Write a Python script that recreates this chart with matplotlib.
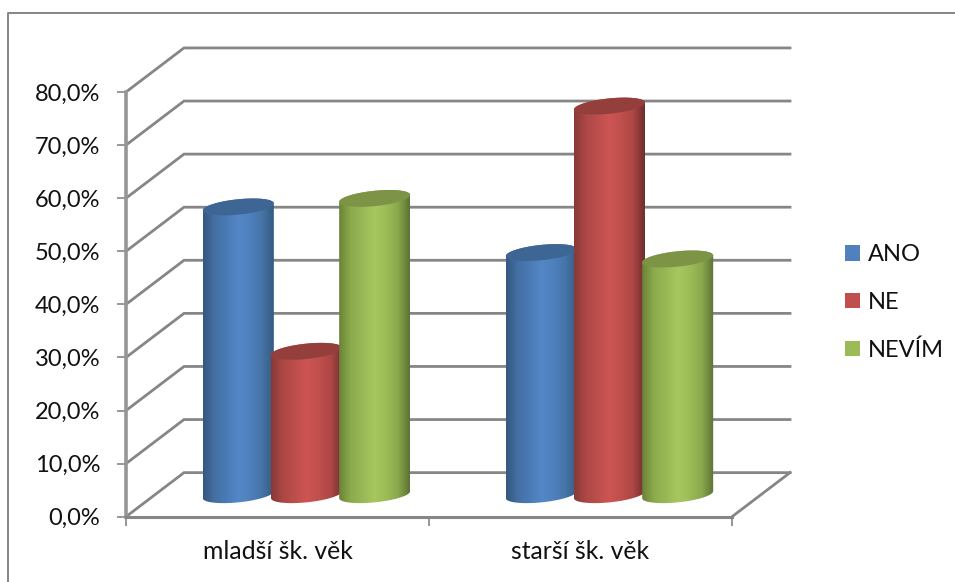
import numpy as np
import matplotlib
matplotlib.use('Agg')
import matplotlib.pyplot as plt
from matplotlib.colors import LinearSegmentedColormap
from matplotlib.lines import Line2D
from matplotlib.patches import Patch, Polygon

# data
categories = ['mladší šk. věk', 'starší šk. věk']
series_names = ['ANO', 'NE', 'NEVÍM']
ano_values = [54.2, 45.6]
ne_values = [27.0, 73.2]
nevim_values = [55.8, 44.4]
y_ticks = [0, 10, 20, 30, 40, 50, 60, 70, 80]

# colours: legend, top cap, horizontal shading of the body
legend_colors = ['#4f81bd', '#c0504d', '#9bbb59']
top_colors = ['#3e6695', '#953f3d', '#7d9446']
body_colors = [
    ['#34587f', '#4470a3', '#4a7bb6', '#5487c7', '#4f80bd', '#4674a8', '#345a80'],
    ['#863a38', '#ad4745', '#bc4f4d', '#cd5553', '#c04f4d', '#ad4745', '#6e2e2d'],
    ['#6a8338', '#8cab4d', '#98b856', '#a6c85f', '#9cbc59', '#8aa84c', '#5c7233'],
]
GRID = '#868686'
FONT_SIZE = 17

# plot geometry
W, H = 955, 582
X0, X1 = 126, 732    # front floor edge, pixels
Y0, Y80 = 516.7, 92  # 0 % and 80 % on the front axis, pixels
DEPTH_X = 58 / ((X1 - X0) / 2)
DEPTH_Y = 8.3
HALF_W = 35.5 / ((X1 - X0) / 2)
STEP = 0.225
CAP_B = 1.45
CAP_S = 0.66

plt.rcParams['font.family'] = ['Lato', 'DejaVu Sans']
plt.rcParams['text.color'] = '#111111'
plt.rcParams['xtick.labelcolor'] = '#111111'
plt.rcParams['ytick.labelcolor'] = '#111111'

fig = plt.figure(figsize=(W / 100, H / 100), dpi=100, facecolor='white')
ax = fig.add_axes([X0 / W, 1 - Y0 / H, (X1 - X0) / W, (Y0 - Y80) / H])
ax.patch.set_alpha(0)
ax.set_autoscale_on(False)
ax.set_xlim(0, 2)
ax.set_ylim(0, 80)


def cap_points(cx, cy, t):
    """Tilted ellipse of a cylinder end, in data units"""
    x = cx + HALF_W * np.cos(t)
    y = cy + CAP_B * np.sin(t) + CAP_S * np.cos(t)
    return np.column_stack([x, y])


def draw_cylinder(ax, cx, value, series):
    base_y = DEPTH_Y / 2
    top_y = base_y + value
    zorder = 3 + series

    # body: lower half of the base, upper half of the top
    lower = cap_points(cx, base_y, np.linspace(np.pi, 2 * np.pi, 60))
    upper = cap_points(cx, top_y, np.linspace(0, np.pi, 60))
    outline = Polygon(np.vstack([lower, upper]), closed=True, facecolor='none',
                      edgecolor='none', transform=ax.transData)
    ax.add_patch(outline)

    cmap = LinearSegmentedColormap.from_list('body', body_colors[series])
    im = ax.imshow(np.linspace(0, 1, 256).reshape(1, -1), cmap=cmap, aspect='auto',
                   extent=(cx - HALF_W, cx + HALF_W, 0, 80), zorder=zorder,
                   interpolation='bilinear')
    im.set_clip_path(outline)

    cap = Polygon(cap_points(cx, top_y, np.linspace(0, 2 * np.pi, 120)), closed=True,
                  facecolor=top_colors[series], edgecolor='none', zorder=zorder + 0.5)
    ax.add_patch(cap)


# back wall grid and side lines
for v in y_ticks:
    ax.plot([0, DEPTH_X, 2 + DEPTH_X], [v, v + DEPTH_Y, v + DEPTH_Y], color=GRID,
            lw=2.0, clip_on=False, zorder=1, solid_joinstyle='miter')
ax.plot([2, 2 + DEPTH_X], [0, DEPTH_Y], color=GRID, lw=2.0, clip_on=False, zorder=1)

# cylinders
all_values = [ano_values, ne_values, nevim_values]
for s, values in enumerate(all_values):
    for c, value in enumerate(values):
        cx = c + 0.5 + DEPTH_X / 2 + (s - 1) * STEP
        draw_cylinder(ax, cx, value, s)

# axes
for side in ['top', 'right']:
    ax.spines[side].set_visible(False)
ax.spines['left'].set_color('#969696')
ax.spines['left'].set_linewidth(2.6)
ax.spines['bottom'].set_color(GRID)
ax.spines['bottom'].set_linewidth(2.2)

ax.set_yticks(y_ticks)
ax.set_yticklabels([f'{v:.1f}%'.replace('.', ',') for v in y_ticks])
ax.set_xticks([0, 1, 2])
ax.set_xticklabels([])
ax.set_xticks([0.5, 1.5], categories, minor=True)
ax.tick_params(axis='y', length=6.5, width=1.2, color=GRID, labelsize=FONT_SIZE, pad=12)
ax.tick_params(axis='x', which='major', length=6.5, width=1.2, color=GRID)
ax.tick_params(axis='x', which='minor', length=0, labelsize=17.8, pad=17)

# legend
handles = [Patch(facecolor=c, edgecolor='none') for c in legend_colors]
ax.legend(handles, series_names, loc='center left', frameon=False, fontsize=FONT_SIZE,
          bbox_to_anchor=(824 / W, 1 - 302.5 / H), bbox_transform=fig.transFigure,
          handlelength=0.62, handleheight=0.62, handletextpad=0.32, labelspacing=1.12)

# chart frame, cut by the image on the right and at the bottom
fig.add_artist(Line2D([8 / W, 8 / W, 1], [0, 1 - 13 / H, 1 - 13 / H], color=GRID, lw=1.4))

fig.savefig('out.png', dpi=100)
